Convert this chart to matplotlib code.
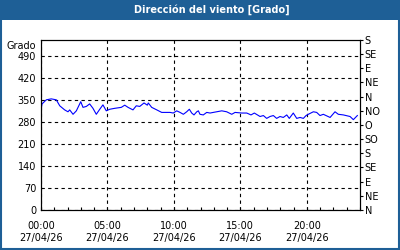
import numpy as np
import matplotlib.pyplot as plt
from matplotlib.patches import Rectangle
from matplotlib.ticker import MultipleLocator

# hora del dia y direccion del viento en grados
horas = [0.0, 0.08, 0.40, 0.77, 1.15, 1.41, 1.78, 2.03, 2.16, 2.41, 2.66, 2.99,
         3.16, 3.41, 3.66, 3.91, 4.16, 4.42, 4.66, 4.91, 5.17, 5.55, 6.04, 6.30,
         6.55, 6.92, 7.17, 7.43, 7.75, 8.00, 8.07, 8.33, 8.71, 9.08, 9.71, 9.95,
         10.21, 10.46, 10.71, 10.96, 11.16, 11.34, 11.51, 11.72, 11.84, 11.96,
         12.21, 12.47, 12.72, 12.96, 13.22, 13.60, 13.97, 14.35, 14.60, 15.10,
         15.48, 15.80, 16.05, 16.48, 16.73, 16.98, 17.23, 17.48, 17.73, 17.98,
         18.23, 18.49, 18.68, 18.98, 19.24, 19.49, 19.74, 19.94, 20.11, 20.49,
         20.74, 20.99, 21.24, 21.75, 22.12, 22.37, 22.75, 23.25, 23.50, 23.80]
grados = [318, 337, 350, 353, 350, 331, 318, 312, 318, 304, 315, 344,
          326, 329, 337, 323, 304, 320, 334, 315, 320, 323, 326, 333,
          326, 318, 331, 329, 340, 333, 340, 326, 318, 310, 310, 308,
          315, 310, 304, 312, 320, 308, 302, 312, 315, 304,
          302, 310, 308, 310, 312, 315, 312, 304, 310, 308,
          308, 302, 308, 297, 300, 291, 297, 300, 291, 297,
          294, 302, 291, 308, 291, 294, 291, 300, 304, 312,
          310, 300, 304, 294, 312, 304, 302, 297, 287, 300]

y_ticks = [0, 70, 140, 210, 280, 350, 420, 490]
x_ticks = [0, 5, 10, 15, 20]
x_labels = ["00:00\n27/04/26", "05:00\n27/04/26", "10:00\n27/04/26",
            "15:00\n27/04/26", "20:00\n27/04/26"]
rumbos = ["N", "NE", "E", "SE", "S", "SO", "O", "NO", "N", "NE", "E", "SE", "S"]
titulo = "Dirección del viento [Grado]"

azul = "#1e5f96"
plt.rcParams['font.family'] = ['DejaVu Sans']
plt.rcParams['font.size'] = 7

fig = plt.figure(figsize=(4, 2.5), dpi=100)
fig.patch.set_facecolor("white")

# barra del titulo y borde
fig.patches.append(Rectangle((0, 230 / 250), 1, 20 / 250, transform=fig.transFigure,
                             facecolor=azul, edgecolor="none", zorder=0))
fig.patches.append(Rectangle((0.0025, 0.004), 0.995, 0.992, transform=fig.transFigure,
                             facecolor="none", edgecolor=azul, linewidth=1.5, zorder=1))
fig.text(212 / 400, 240 / 250, titulo, color="white", fontweight="bold",
         ha="center", va="center", fontsize=7)

ax = fig.add_axes([41 / 400, 40 / 250, 319 / 400, 170 / 250])
ax.plot(horas, grados, color="#0000ff", linewidth=0.8, zorder=3)

ax.set_xlim(0, 24)
ax.set_ylim(0, 540)
ax.set_yticks(y_ticks)
ax.set_xticks(x_ticks)
ax.set_xticklabels(x_labels, linespacing=1.25)
ax.xaxis.set_minor_locator(MultipleLocator(1))
ax.tick_params(axis="x", which="both", direction="in", length=2.5, width=0.8, pad=8)
ax.tick_params(axis="y", length=0, pad=3.5)
ax.grid(True, color="black", linestyle=(0, (3, 3)), linewidth=0.8)
for s in ax.spines.values():
    s.set_linewidth(0.8)

ax2 = ax.twinx()
ax2.set_ylim(0, 540)
ax2.set_yticks(np.arange(0, 541, 45))
ax2.set_yticklabels(rumbos)
ax2.tick_params(axis="y", direction="out", length=2.5, width=0.8, pad=1)

fig.text(36 / 400, 1 - 46 / 250, "Grado", ha="right", va="center", fontsize=7)

fig.savefig("out.png", dpi=100)
